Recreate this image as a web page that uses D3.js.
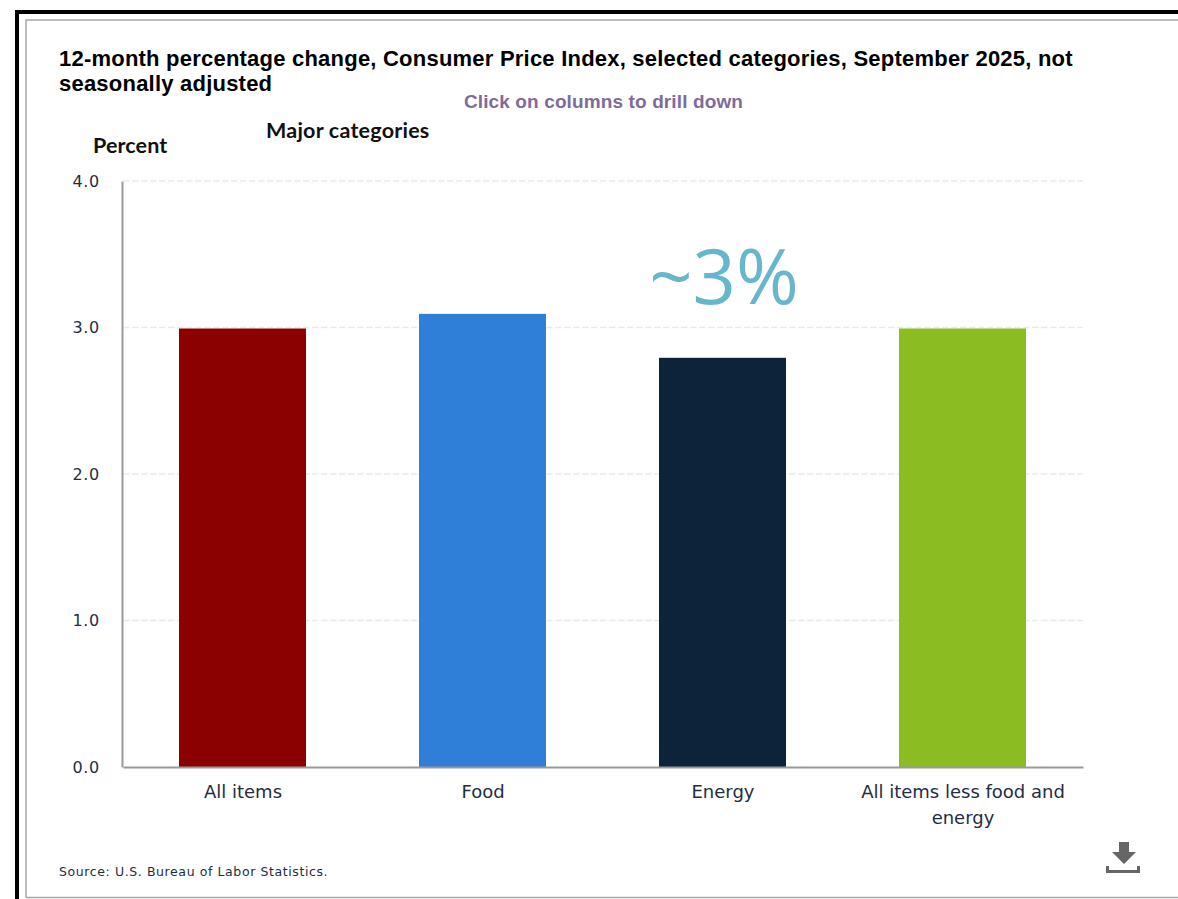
<!DOCTYPE html>
<html>
<head>
<meta charset="utf-8">
<script src="https://cdn.jsdelivr.net/npm/d3@7/dist/d3.min.js"></script>
<style>
html, body { margin: 0; padding: 0; background: #fff; }
svg { display: block; }
</style>
</head>
<body>
<svg id="chart" width="1178" height="899"></svg>
<script>
// CPI 12-month percentage change by major category
const categories = ["All items", "Food", "Energy", "All items less food and energy"];
const values = [3.0, 3.1, 2.8, 3.0];
const barColors = ["#8b0000", "#2f7ed8", "#0d233a", "#8bbc21"];
const yTicks = [0, 1, 2, 3, 4];
const titleLines = [
  "12-month percentage change, Consumer Price Index, selected categories, September 2025, not",
  "seasonally adjusted"
];

const svg = d3.select("#chart");

// Outer frames
svg.append("path").attr("fill", "none").attr("stroke", "#000").attr("stroke-width", 4)
  .attr("d", "M17,899V12H1178");
svg.append("path").attr("fill", "none").attr("stroke", "#a8a8a8").attr("stroke-width", 1.5)
  .attr("d", "M26,897.5V20H1178M26,897.5H1178");

const margin = { top: 181, left: 123, right: 1083, bottom: 767 };

const x = d3.scaleBand().domain(categories)
  .range([margin.left, margin.right])
  .paddingInner(0.47).paddingOuter(0.235);
const y = d3.scaleLinear().domain([0, 4]).range([margin.bottom, margin.top]);

// Dashed horizontal gridlines
svg.append("g").selectAll("line").data(yTicks.filter(d => d > 0)).join("line")
  .attr("x1", margin.left).attr("x2", margin.right)
  .attr("y1", d => y(d)).attr("y2", d => y(d))
  .attr("stroke", "#eaeaea").attr("stroke-width", 1.3).attr("stroke-dasharray", "6.5 2.5");

// Bars, snapped to whole pixels with a one-pixel drop from the grid
svg.append("g").selectAll("rect").data(categories).join("rect")
  .attr("x", d => Math.floor(x(d))).attr("width", Math.round(x.bandwidth()))
  .attr("y", (d, i) => y(values[i]) + 1)
  .attr("height", (d, i) => y(0) - y(values[i]) - 1)
  .attr("fill", (d, i) => barColors[i]);

// Value axis
const yAxis = svg.append("g").attr("transform", `translate(${margin.left - 1},0)`)
  .call(d3.axisLeft(y).tickValues(yTicks).tickFormat(d3.format(".1f")).tickSize(0).tickPadding(22));
yAxis.select(".domain").attr("stroke", "#999").attr("stroke-width", 2);
yAxis.selectAll("text")
  .attr("font-family", "'DejaVu Sans', sans-serif").attr("font-size", 16)
  .attr("letter-spacing", 0.7).attr("fill", "#1f2d44").attr("dy", "0.32em");

// Category axis, with long labels wrapped to the plot step
const xAxis = svg.append("g").attr("transform", `translate(0,${margin.bottom})`)
  .call(d3.axisBottom(x).tickSize(0).tickPadding(0));
xAxis.select(".domain").attr("stroke", "#999").attr("stroke-width", 2);
xAxis.selectAll("text")
  .attr("font-family", "'DejaVu Sans', sans-serif").attr("font-size", 18)
  .attr("fill", "#1f2d44")
  .each(function (label) {
    const node = d3.select(this).text(null).attr("y", 0).attr("dy", null);
    const words = label.split(" ");
    let line = [], row = 0;
    let tspan = node.append("tspan").attr("x", 0).attr("y", 31);
    words.forEach(word => {
      line.push(word);
      tspan.text(line.join(" "));
      if (tspan.node().getComputedTextLength() > 225) {
        line.pop();
        tspan.text(line.join(" "));
        line = [word];
        row += 1;
        tspan = node.append("tspan").attr("x", 0).attr("y", 31 + row * 26).text(word);
      }
    });
  });

// Title block
svg.append("g").selectAll("text").data(titleLines).join("text")
  .attr("x", 59).attr("y", (d, i) => 65.5 + i * 25)
  .attr("font-family", "'Liberation Sans', Arial, sans-serif")
  .attr("font-weight", 700).attr("font-size", 22).attr("letter-spacing", 0.22).attr("fill", "#000")
  .text(d => d);

svg.append("text").attr("x", 603.5).attr("y", 108).attr("text-anchor", "middle")
  .attr("font-family", "'Liberation Sans', Arial, sans-serif")
  .attr("font-weight", 700).attr("font-size", 19).attr("letter-spacing", 0.12).attr("fill", "#7f6a9c")
  .text("Click on columns to drill down");

svg.append("text").attr("x", 266).attr("y", 138)
  .attr("font-family", "Lato, sans-serif").attr("font-weight", 700)
  .attr("font-size", 21.5).attr("letter-spacing", 0.22).attr("fill", "#111")
  .text("Major categories");

svg.append("text").attr("x", 93).attr("y", 152.5)
  .attr("font-family", "Lato, sans-serif").attr("font-weight", 700)
  .attr("font-size", 21.5).attr("letter-spacing", 0.1).attr("fill", "#111")
  .text("Percent");

// Annotation over the bars
svg.append("text").attr("x", 724).attr("y", 304).attr("text-anchor", "middle")
  .attr("font-family", "'Open Sans', sans-serif").attr("font-weight", 400)
  .attr("font-size", 76).attr("fill", "#67b7cc")
  .text("~3%");

// Source note
svg.append("text").attr("x", 59).attr("y", 876)
  .attr("font-family", "'DejaVu Sans', sans-serif").attr("font-size", 12.5)
  .attr("letter-spacing", 0.6).attr("fill", "#1f2d44")
  .text("Source: U.S. Bureau of Labor Statistics.");

// Download icon
svg.append("path").attr("fill", "#666")
  .attr("d", "M1119,842h10v10h7l-12,12l-12,-12h7zM1106,866h3v4h28v-4h3v7h-34z");
</script>
</body>
</html>
